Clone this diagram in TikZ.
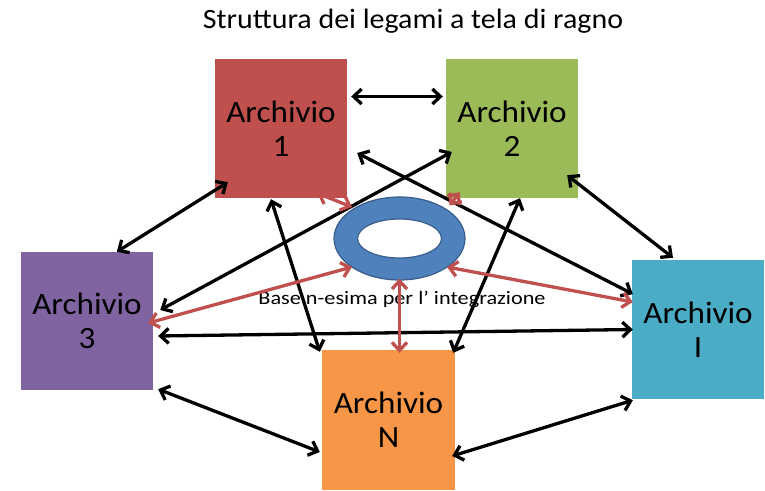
\documentclass[tikz,border=0pt]{standalone}
\usepackage{fontspec}
\setmainfont{Carlito}[FakeStretch=1.07]
\newfontfamily\labfont{Carlito}[FakeStretch=1.17]
\usetikzlibrary{arrows.meta,calc,shapes.geometric}
\definecolor{cone}{HTML}{C0504D}
\definecolor{ctwo}{HTML}{9BBB59}
\definecolor{cthree}{HTML}{8064A2}
\definecolor{ci}{HTML}{4BACC6}
\definecolor{cn}{HTML}{F79646}
\definecolor{ringblue}{HTML}{4F81BD}
\definecolor{ringline}{HTML}{385D8A}
\definecolor{redarrow}{HTML}{C0504D}
\begin{document}
\begin{tikzpicture}[x=1pt,y=-1pt,
  box/.style={rectangle, inner sep=0pt, minimum width=132pt, minimum height=139pt,
    align=center, font=\fontsize{31}{34}\selectfont},
  link/.style={line width=3.3pt, draw=black,
    {Straight Barb[length=8pt,width=15pt]}-{Straight Barb[length=8pt,width=15pt]}},
  redlink/.style={link, draw=redarrow}
]
\useasboundingbox (0,0) rectangle (765,490);

\node[font=\fontsize{28}{30}\selectfont, anchor=base] (title) at (413,28) {Struttura dei legami a tela di ragno};

\node[box, fill=cone] (b1) at (281,128.5) {Archivio\\1};
\node[box, fill=ctwo] (b2) at (512,128.5) {Archivio\\2};
\node[box, fill=cthree, minimum height=138pt] (b3) at (87,321) {Archivio\\3};
\node[box, fill=ci] (bI) at (698,329.5) {Archivio\\I};
\node[box, fill=cn, minimum width=133pt, minimum height=140pt] (bN) at (388.5,420) {Archivio\\N};

\node[font=\labfont\fontsize{19}{21}\selectfont, anchor=base, inner sep=0pt] (lab) at (402,304) {Base n-esima per l’ integrazione};

% black links between every pair of archives
\draw[link] ($(b1.east)+(4,-32)$) -- ($(b2.west)+(-3,-32)$);
\draw[link] ($(b3.north west)+(96,0)$) -- ($(b1.south west)+(13,-16)$);
\draw[link] ($(b1.south)+(-10,1)$) -- ($(bN.north west)+(-2,2)$);
\draw[link] ($(b1.east)+(10,24.5)$) -- ($(bI.west)+(1,-35.5)$);
\draw[link] ($(b2.west)+(6,23.5)$) -- ($(b3.east)+(7,-11)$);
\draw[link] ($(b2.south)+(8,0)$) -- ($(bN.north east)+(-2,3)$);
\draw[link] ($(b2.south east)+(-11,-23)$) -- ($(bI.north)+(-25,-2)$);
\draw[link] ($(b3.east)+(5,15)$) -- ($(bI.west)+(1,0)$);
\draw[link] ($(b3.south east)+(5,-1)$) -- ($(bN.west)+(-2,32)$);
\draw[link] ($(bI.south west)+(1,1)$) -- ($(bN.east)+(-3,36)$);

% ring
\node[ellipse, draw=ringline, line width=1.2pt, fill=ringblue, inner sep=0pt,
  minimum width=131pt, minimum height=83pt] (ring) at (399.5,238.5) {};
\node[ellipse, draw=ringline, line width=1.2pt, fill=white, inner sep=0pt,
  minimum width=84pt, minimum height=39pt] (hole) at (ring.center) {};

% red links from the ring to each archive
\draw[redlink] ($(b1.south east)+(-30,-5)$) -- ($(ring.center)+(-47.5,-31.5)$);
\draw[redlink] ($(b2.south west)+(14,-6)$) -- ($(ring.center)+(50,-33)$);
\draw[redlink] ($(ring.center)+(-47.5,28.5)$) -- ($(b3.east)+(-5,2)$);
\draw[redlink] ($(ring.center)+(47.5,28.5)$) -- ($(bI.west)+(1,-27.5)$);
\draw[redlink] ($(ring.south)+(0,-2)$) -- ($(bN.north)+(11,3)$);
\end{tikzpicture}
\end{document}
